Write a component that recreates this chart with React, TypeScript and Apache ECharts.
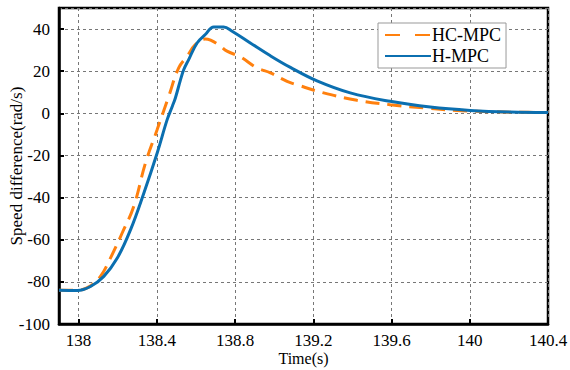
import React, { useEffect, useRef } from "react";
import * as echarts from "echarts";

const xTicks = [138, 138.4, 138.8, 139.2, 139.6, 140, 140.4];

const hcmpcTime = [137.9, 137.99, 138.06, 138.112, 138.163, 138.223, 138.282, 138.342, 138.402, 138.461, 138.512, 138.555, 138.597, 138.648, 138.675, 138.72, 138.759, 138.827, 138.912, 138.981, 139.066, 139.125, 139.253, 139.423, 139.593, 139.764, 139.934, 140.138, 140.25, 140.4];
const hcmpcSpeed = [-84, -84, -82, -77.4, -68.7, -56.8, -44.2, -23.6, -7.7, 8.1, 21.6, 27.1, 32.6, 35.3, 34.7, 32.3, 29.5, 26.8, 21.6, 19.2, 15.2, 13.3, 9.7, 6.2, 4.1, 2.6, 1.4, 0.7, 0.5, 0.4];

const hmpcTime = [137.9, 137.993, 138.061, 138.129, 138.198, 138.266, 138.334, 138.402, 138.453, 138.48, 138.495, 138.52, 138.538, 138.563, 138.606, 138.648, 138.691, 138.742, 138.785, 138.878, 138.981, 139.083, 139.219, 139.389, 139.593, 139.798, 140.002, 140.206, 140.4];
const hmpcSpeed = [-84, -84.1, -82.2, -77.4, -68.7, -55.2, -37.8, -18.8, -3.0, 3.5, 7.3, 15.5, 20.8, 25.5, 33.4, 37.4, 41.0, 41.0, 39.0, 33.4, 27.3, 21.8, 15.4, 9.7, 5.7, 3.0, 1.4, 0.6, 0.4];

const toPairs = (xs: number[], ys: number[]) => xs.map((x, i) => [x, ys[i]]);

const FONT = "'Liberation Serif', 'Times New Roman', serif";

export default function App() {
  const ref = useRef<HTMLDivElement>(null);
  useEffect(() => {
    if (!ref.current) return;
    const chart = echarts.init(ref.current, null, { renderer: "svg" });
    chart.setOption({
      animation: false,
      backgroundColor: "#fff",
      textStyle: { fontFamily: FONT },
      grid: {
        left: 59,
        right: 22,
        top: 8,
        bottom: 46,
        outerBoundsMode: "none",
        containLabel: false,
        show: true,
        borderColor: "#000",
        borderWidth: 2.5,
        backgroundColor: "transparent",
      },
      legend: {
        orient: "vertical",
        left: 378,
        top: 23,
        padding: [3, 5, 3, 6],
        itemGap: 3,
        itemWidth: 46,
        itemHeight: 14,
        borderColor: "#999",
        borderWidth: 1,
        backgroundColor: "#fff",
        itemStyle: { opacity: 0 },
        textStyle: { fontFamily: FONT, fontSize: 18, color: "#000", padding: [0, 0, 0, -4] },
        data: [
          { name: "HC-MPC", lineStyle: { type: [15, 15] } },
          { name: "H-MPC" },
        ],
      },
      xAxis: {
        type: "value",
        min: 137.9,
        max: 140.4,
        name: "Time(s)",
        nameLocation: "middle",
        nameGap: 26,
        nameMoveOverlap: false,
        nameTextStyle: { fontFamily: FONT, fontSize: 16, color: "#000" },
        axisLine: { show: true, onZero: false, lineStyle: { color: "#000", width: 2.5 } },
        axisTick: { show: true, inside: true, length: 5, lineStyle: { color: "#000", width: 2 }, customValues: xTicks },
        axisLabel: { customValues: xTicks, fontFamily: FONT, fontSize: 17, color: "#000", margin: 8, formatter: (v: number) => String(+v.toFixed(1)) },
        splitLine: { show: true, lineStyle: { color: "#777", width: 1, type: [3, 3] } },
      },
      yAxis: {
        type: "value",
        min: -100,
        max: 50,
        interval: 20,
        name: "Speed difference(rad/s)",
        nameLocation: "middle",
        nameRotate: 90,
        nameGap: 34,
        nameMoveOverlap: false,
        nameTextStyle: { fontFamily: FONT, fontSize: 17, color: "#000" },
        axisLine: { show: true, onZero: false, lineStyle: { color: "#000", width: 2.5 } },
        axisTick: { show: true, inside: true, length: 5, lineStyle: { color: "#000", width: 2 } },
        axisLabel: { fontFamily: FONT, fontSize: 17, color: "#000", margin: 9, showMaxLabel: false },
        splitLine: { show: true, lineStyle: { color: "#777", width: 1, type: [3, 3] } },
      },
      series: [
        {
          name: "HC-MPC",
          type: "line",
          data: toPairs(hcmpcTime, hcmpcSpeed),
          showSymbol: false,
          symbol: "none",
          smooth: 0.4,
          lineStyle: { color: "#FF800E", width: 3, type: [14, 8] },
          itemStyle: { color: "#FF800E" },
        },
        {
          name: "H-MPC",
          type: "line",
          data: toPairs(hmpcTime, hmpcSpeed),
          showSymbol: false,
          symbol: "none",
          smooth: 0.4,
          lineStyle: { color: "#0B6FB0", width: 3 },
          itemStyle: { color: "#0B6FB0" },
        },
      ],
    });
    return () => chart.dispose();
  }, []);
  return <div ref={ref} style={{ width: 570, height: 370, position: "absolute", left: 0, top: 0 }} />;
}
